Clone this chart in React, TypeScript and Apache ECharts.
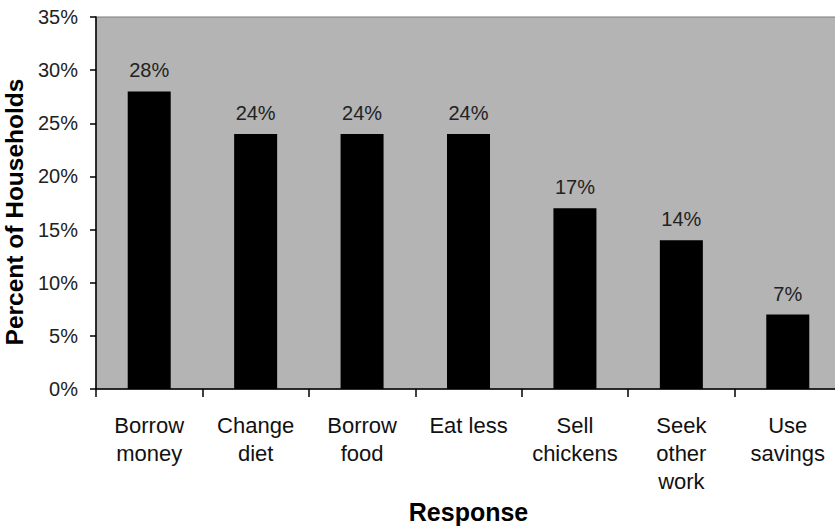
import React, { useEffect, useRef } from "react";
import * as echarts from "echarts";

const categories = ["Borrow\nmoney", "Change\ndiet", "Borrow\nfood", "Eat less", "Sell\nchickens", "Seek\nother\nwork", "Use\nsavings"];
const values = [28, 24, 24, 24, 17, 14, 7];
const yTicks = [0, 5, 10, 15, 20, 25, 30, 35];

const FONT = "'Liberation Sans', Arial, sans-serif";

export default function App() {
  const ref = useRef<HTMLDivElement>(null);
  useEffect(() => {
    if (!ref.current) return;
    const chart = echarts.init(ref.current, null, { renderer: "svg" });
    chart.setOption({
      animation: false,
      backgroundColor: "#ffffff",
      grid: {
        left: 96,
        top: 17,
        width: 745,
        height: 372,
        containLabel: false,
        outerBoundsMode: "none",
        show: true,
        backgroundColor: "#b4b4b4",
        borderColor: "#7a7a7a",
        borderWidth: 1,
      },
      xAxis: {
        type: "category",
        data: categories,
        boundaryGap: true,
        name: "Response",
        nameLocation: "middle",
        nameGap: 107,
        nameTextStyle: { fontFamily: FONT, fontSize: 25, fontWeight: "bold", color: "#000", verticalAlign: "top" },
        axisLine: { lineStyle: { color: "#000", width: 1.5 } },
        axisTick: { show: true, length: 8, alignWithLabel: false, lineStyle: { color: "#000", width: 1.5 } },
        axisLabel: {
          interval: 0,
          margin: 22,
          fontFamily: FONT,
          fontSize: 22,
          lineHeight: 28,
          color: "#111",
          verticalAlign: "top",
        },
        splitLine: { show: false },
      },
      yAxis: {
        type: "value",
        min: yTicks[0],
        max: yTicks[yTicks.length - 1],
        interval: 5,
        name: "Percent of Households",
        nameLocation: "middle",
        nameGap: 69,
        nameTextStyle: {
          fontFamily: FONT,
          fontSize: 24.5,
          fontWeight: "bold",
          color: "#000",
          verticalAlign: "bottom",
          padding: [0, 18, 0, 0],
        },
        axisLine: { show: true, lineStyle: { color: "#000", width: 1.5 } },
        axisTick: { show: true, length: 6, lineStyle: { color: "#000", width: 1.5 } },
        axisLabel: {
          margin: 18,
          fontFamily: FONT,
          fontSize: 20,
          color: "#222",
          formatter: (v: number) => v + "%",
        },
        splitLine: { show: false },
      },
      series: [
        {
          type: "bar",
          data: values,
          barWidth: 43,
          itemStyle: { color: "#000" },
          label: {
            show: true,
            position: "top",
            distance: 11,
            fontFamily: FONT,
            fontSize: 20,
            color: "#222",
            formatter: (p: any) => p.value + "%",
          },
        },
      ],
    });
    return () => chart.dispose();
  }, []);
  return <div ref={ref} style={{ width: 835, height: 526, position: "fixed", left: 0, top: 0 }} />;
}
